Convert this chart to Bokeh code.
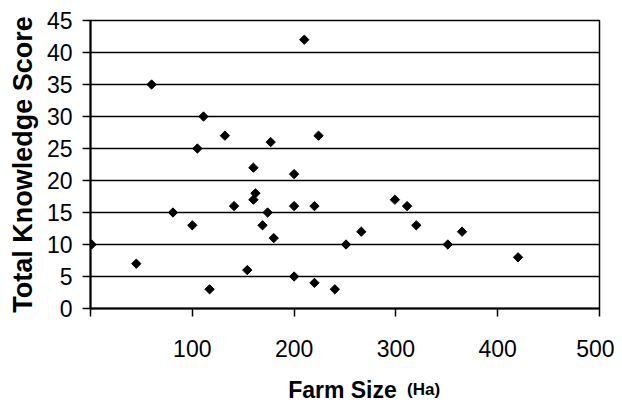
from bokeh.plotting import figure
from bokeh.models import Range1d, FixedTicker
from bokeh.layouts import column
from bokeh.core.properties import value
from bokeh.embed import file_html
from bokeh.resources import INLINE
import math

# Data
farm_size = [1, 45, 60, 81, 100, 105, 111, 117, 132, 141, 154, 160, 162, 160,
             169, 174, 177, 180, 200, 200, 200, 210, 224, 220, 220, 240, 251,
             266, 299, 311, 320, 351, 365, 420]
knowledge = [10, 7, 35, 15, 13, 25, 30, 3, 27, 16, 6, 22, 18, 17,
             13, 15, 26, 11, 21, 16, 5, 42, 27, 16, 4, 3, 10,
             12, 17, 16, 13, 10, 12, 8]
x_ticks = [0, 100, 200, 300, 400, 500]
y_ticks = [0, 5, 10, 15, 20, 25, 30, 35, 40, 45]
x_title = "Farm Size"
x_unit = "(Ha)"
y_title = "Total Knowledge Score"

FONT = "Liberation Sans"
W = 614

p = figure(width=W, height=368, output_backend="svg", toolbar_location=None,
           x_range=Range1d(0, 500), y_range=Range1d(0, 45),
           min_border_left=90, min_border_right=15, min_border_top=20,
           min_border_bottom=60)

p.background_fill_color = "white"
p.border_fill_color = "white"
p.outline_line_color = "black"
p.outline_line_width = 1.5

p.xgrid.visible = False
p.ygrid.ticker = FixedTicker(ticks=y_ticks)
p.ygrid.grid_line_color = "black"
p.ygrid.grid_line_width = 1.5
p.ygrid.grid_line_alpha = 1.0

p.xaxis.ticker = FixedTicker(ticks=x_ticks)
p.xaxis.major_label_overrides = {0: ""}
p.yaxis.ticker = FixedTicker(ticks=y_ticks)

for ax in (p.xaxis, p.yaxis):
    ax.axis_line_color = "black"
    ax.axis_line_width = 2
    ax.major_tick_line_color = "black"
    ax.major_tick_line_width = 1.5
    ax.major_tick_in = 0
    ax.major_tick_out = 8
    ax.minor_tick_line_color = None
    ax.major_label_text_font = FONT
    ax.major_label_text_font_size = "23px"
    ax.major_label_text_color = "black"
    ax.axis_label_text_font = FONT
    ax.axis_label_text_font_style = "bold"
    ax.axis_label_text_color = "black"

p.xaxis.major_label_standoff = 23
p.yaxis.major_label_standoff = 10

p.yaxis.axis_label = y_title
p.yaxis.axis_label_text_font_size = "27px"
p.yaxis.axis_label_standoff = 6

p.scatter(farm_size, knowledge, marker="square", size=6.6, angle=math.pi / 4,
          fill_color="black", line_color="black", line_width=1)

# strip below the chart holding the x-axis title; shares the chart's x scale
t = figure(width=W, height=36, output_backend="svg", toolbar_location=None,
           x_range=p.x_range, y_range=Range1d(0, 36),
           x_axis_type=None, y_axis_type=None,
           min_border_left=90, min_border_right=15, min_border_top=0,
           min_border_bottom=0)
t.grid.visible = False
t.outline_line_color = None
t.background_fill_color = "white"
t.border_fill_color = "white"
t.text(x=[247.5], y=[15], text=[x_title], text_font=value(FONT),
       text_font_style="bold", text_font_size="23px", text_color="black",
       text_align="center", text_baseline="alphabetic")
t.text(x=[311], y=[15], text=[x_unit], text_font=value(FONT),
       text_font_style="bold", text_font_size="17px", text_color="black",
       text_align="left", text_baseline="alphabetic")

layout = column(p, t, spacing=0)

open("out.html", "w").write(file_html(layout, INLINE))
